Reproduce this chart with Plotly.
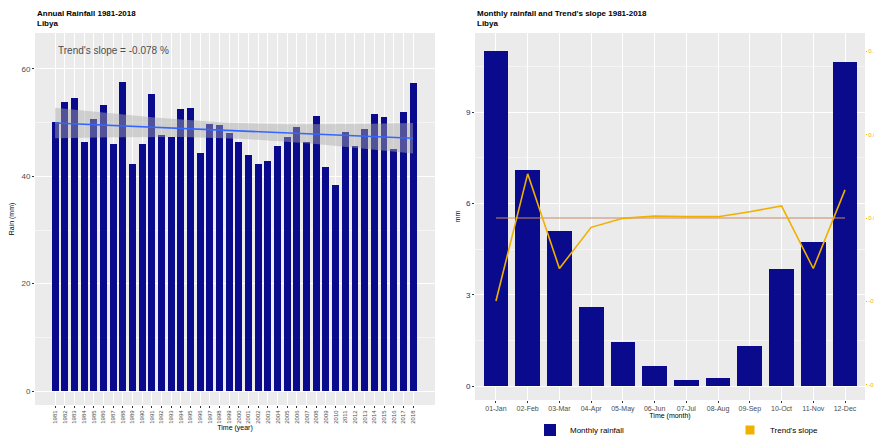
import numpy as np
import plotly.graph_objects as go

# ---------------- data ----------------
years = list(range(1981, 2019))
annual_rain = [50.2, 53.9, 54.5, 46.4, 50.6, 53.2, 46.1, 57.6, 42.3, 46.1,
               55.3, 47.7, 47.4, 52.5, 52.8, 44.3, 49.7, 49.5, 48.1, 46.4,
               43.9, 42.3, 42.8, 45.6, 47.3, 49.2, 46.4, 51.3, 41.8, 38.4,
               48.3, 45.6, 48.8, 51.7, 51.0, 45.0, 52.0, 57.3]
months = ["01-Jan", "02-Feb", "03-Mar", "04-Apr", "05-May", "06-Jun",
          "07-Jul", "08-Aug", "09-Sep", "10-Oct", "11-Nov", "12-Dec"]
monthly_rain = [11.0, 7.1, 5.1, 2.58, 1.43, 0.67, 0.2, 0.25, 1.32, 3.84, 4.73, 10.66]
monthly_slope = [-0.0498, 0.0265, -0.0303, -0.0056, -0.0002, 0.0012,
                 0.0008, 0.0008, 0.0038, 0.0072, -0.0303, 0.0169]
left_yticks = [0, 20, 40, 60]
right_yticks = [0, 3, 6, 9]
slope_ticks = [-0.10, -0.05, 0.0, 0.05, 0.10]
slope_ticklabels = ["-0.10", "-0.05", "0.00", "0.05", "0.10"]

# linear trend + 95% confidence band (derived from the data)
x = np.array(years, dtype=float)
y = np.array(annual_rain)
b, a = np.polyfit(x, y, 1)
fit = a + b * x
n = len(x)
resid = y - fit
s = np.sqrt(np.sum(resid ** 2) / (n - 2))
se = s * np.sqrt(1 / n + (x - x.mean()) ** 2 / np.sum((x - x.mean()) ** 2))
tval = 2.028
upper = fit + tval * se
lower = fit - tval * se

OFF = 8                      # page body margin
W, H = 882 - OFF, 439 - OFF
BAR = "#0a0a8c"
SLOPE = "#f0b000"
GRID = "#ffffff"
BG = "#ebebeb"
TICK = "#4d4d4d"

fig = go.Figure()

# left panel
fig.add_trace(go.Bar(x=years, y=annual_rain, marker=dict(color=BAR, line=dict(width=0)),
                     width=0.72, showlegend=False, xaxis="x", yaxis="y"))
fig.add_trace(go.Scatter(x=years + years[::-1], y=list(upper) + list(lower[::-1]),
                         fill="toself", fillcolor="rgba(170,170,170,0.45)",
                         line=dict(width=0), mode="lines", showlegend=False,
                         hoverinfo="skip", xaxis="x", yaxis="y"))
fig.add_trace(go.Scatter(x=years, y=fit, mode="lines", line=dict(color="#3366ff", width=1.6),
                         showlegend=False, xaxis="x", yaxis="y"))

# right panel
fig.add_trace(go.Bar(x=months, y=monthly_rain, name="Monthly rainfall",
                     marker=dict(color=BAR, line=dict(width=0)), width=0.78,
                     xaxis="x2", yaxis="y2", legend="legend"))
fig.add_trace(go.Scatter(x=months, y=[0.0] * len(months), mode="lines",
                         line=dict(color="#c98a66", width=1), showlegend=False,
                         hoverinfo="skip", xaxis="x2", yaxis="y3"))
fig.add_trace(go.Scatter(x=months, y=monthly_slope, name="Trend's slope", mode="lines",
                         line=dict(color=SLOPE, width=1.6), xaxis="x2", yaxis="y3",
                         showlegend=False))
# legend key for the slope line (square key, as in the reference)
fig.add_trace(go.Scatter(x=[None], y=[None], name="Trend's slope", mode="markers",
                         marker=dict(symbol="square", size=9, color=SLOPE),
                         xaxis="x2", yaxis="y3", legend="legend2"))

def fx(px):
    return (px - OFF) / W

def fy(py):
    return 1 - (py - OFF) / H

leg_common = dict(xanchor="left", yanchor="middle", font=dict(size=8, color="#000000"),
                  bgcolor="rgba(0,0,0,0)", itemwidth=30)

fig.update_layout(
    width=W, height=H,
    margin=dict(l=0, r=0, t=0, b=0, autoexpand=False),
    paper_bgcolor="white", plot_bgcolor=BG,
    font=dict(family="Liberation Sans, Arial, sans-serif", size=8, color=TICK),
    bargap=0,
    xaxis=dict(domain=[fx(35), fx(435)], anchor="y", range=[1978.93, 2020.27],
               tickmode="array", tickvals=years, ticktext=[str(v) for v in years],
               tickangle=-90, tickfont=dict(size=6, color=TICK), showgrid=True,
               gridcolor=GRID, zeroline=False, ticks="outside", ticklen=2,
               tickcolor="#333333", showline=False, automargin=False,
               title=dict(text="Time (year)", font=dict(size=7, color="#000000"), standoff=2)),
    yaxis=dict(domain=[fy(405), fy(33)], anchor="x", range=[-2.6, 66.7],
               tickmode="array", tickvals=left_yticks, tickfont=dict(size=8, color=TICK),
               showgrid=True, gridcolor=GRID, zeroline=False, ticks="outside", ticklen=2,
               tickcolor="#333333", minor=dict(showgrid=True, gridcolor="#f5f5f5", dtick=10),
               automargin=False,
               title=dict(text="Rain (mm)", font=dict(size=7, color="#000000"), standoff=8)),
    xaxis2=dict(domain=[fx(475), fx(865)], anchor="y2", range=[-0.66, 11.63],
                tickangle=0, tickfont=dict(size=7, color=TICK), showgrid=True, gridcolor=GRID,
                ticks="outside", ticklen=2, tickcolor="#333333", automargin=False,
                title=dict(text="Time (month)", font=dict(size=7, color="#000000"), standoff=0)),
    yaxis2=dict(domain=[fy(400), fy(33)], anchor="x2", range=[-0.46, 11.6],
                tickmode="array", tickvals=right_yticks, tickfont=dict(size=8, color="#2a2a6a"),
                showgrid=True, gridcolor=GRID, zeroline=False, ticks="outside", ticklen=2,
                tickcolor="#333333", minor=dict(showgrid=True, gridcolor="#f5f5f5", dtick=1.5),
                automargin=False,
                title=dict(text="mm", font=dict(size=7, color="#000000"), standoff=4)),
    yaxis3=dict(overlaying="y2", side="right", anchor="x2", range=[-0.1092, 0.111],
                tickmode="array", tickvals=slope_ticks, ticktext=slope_ticklabels,
                tickfont=dict(size=6, color=SLOPE), showgrid=False, zeroline=False,
                ticks="outside", ticklen=1, tickcolor=SLOPE, automargin=False,
                ticklabelstandoff=0),
    legend=dict(x=fx(530), y=fy(430), **leg_common),
    legend2=dict(x=fx(730), y=fy(430), **leg_common),
    annotations=[
        dict(text="<b>Annual Rainfall 1981-2018</b><br><b>Libya</b>", x=fx(35), y=fy(7),
             xref="paper", yref="paper", xanchor="left", yanchor="top", align="left",
             showarrow=False, font=dict(size=8, color="#000000")),
        dict(text="<b>Monthly rainfall and Trend's slope 1981-2018</b><br><b>Libya</b>",
             x=fx(475), y=fy(7), xref="paper", yref="paper", xanchor="left", yanchor="top",
             align="left", showarrow=False, font=dict(size=8, color="#000000")),
        dict(text=f"Trend's slope = {-0.078:.3f} %", x=fx(56), y=fy(50), xref="paper",
             yref="paper", xanchor="left", yanchor="middle", showarrow=False,
             font=dict(size=10, color="#4d4d4d")),
    ],
)

fig.write_html("out.html")
